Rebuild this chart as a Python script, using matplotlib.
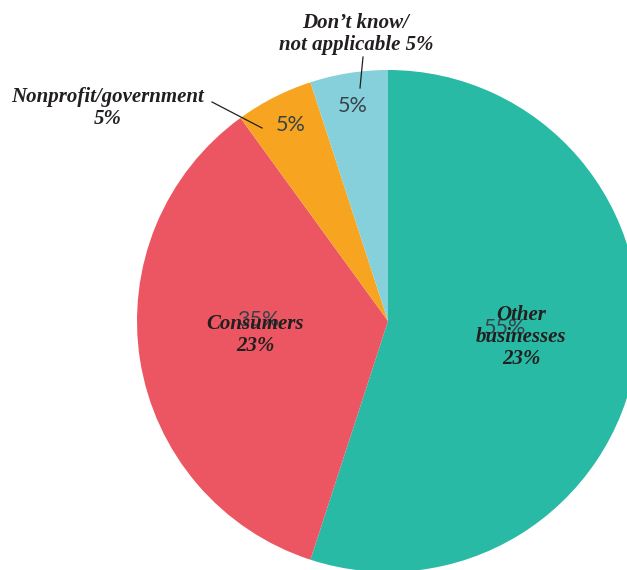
import matplotlib
matplotlib.use("Agg")
import matplotlib.pyplot as plt

# Data
categories = ["Other businesses", "Consumers", "Nonprofit/government", "Don’t know/not applicable"]
values = [55, 35, 5, 5]
pct_labels = ["55%", "35%", "5%", "5%"]
colors = ["#28BAA4", "#EC5662", "#F7A520", "#86D0DB"]
annotations = ["Other\nbusinesses\n23%", "Consumers\n23%", "Nonprofit/government\n5%", "Don’t know/\nnot applicable 5%"]

W, H = 627, 570
CX, CY, R = 388, 321, 251

def p2d(px, py):
    return ((px - CX) / R, (CY - py) / R)

fig = plt.figure(figsize=(W / 100, H / 100), dpi=100)
ax = fig.add_axes([0, 0, 1, 1])

wedges, texts, autotexts = ax.pie(
    values, colors=colors, startangle=90, counterclock=False,
    radius=1.0, center=(0, 0), autopct=lambda p: "",
    wedgeprops=dict(edgecolor="none", linewidth=0), frame=False)

ax.set_aspect("auto")
ax.set_xlim(-CX / R, (W - CX) / R)
ax.set_ylim(-(H - CY) / R, CY / R)
ax.axis("off")

for w in wedges:
    w.set_clip_on(True)

# percent labels inside slices
pct_pos = [(505, 328), (258, 320), (291, 125), (353, 106)]
for t, lab, (px, py) in zip(autotexts, pct_labels, pct_pos):
    t.set_text(lab)
    t.set_position(p2d(px, py))
    t.set_fontfamily("Lato")
    t.set_fontsize(15.5)
    t.set_color("#37424a")
    t.set_ha("center")
    t.set_va("center")

serif = dict(family="Liberation Serif", weight="bold", style="italic",
             color="#231f20", fontsize=15, ha="center", va="center",
             linespacing=1.15)

ann_pos = [(521, 337), (255, 335), (108, 108), (356, 34)]
for text, (px, py) in zip(annotations, ann_pos):
    ax.text(*p2d(px, py), text, **serif)

# leader lines
for (x0, y0), (x1, y1) in [((212, 102), (262, 128)), ((363, 57), (360, 88))]:
    a, b = p2d(x0, y0)
    c, d = p2d(x1, y1)
    ax.plot([a, c], [b, d], color="#231f20", linewidth=0.9)

fig.savefig("out.png", dpi=100)
